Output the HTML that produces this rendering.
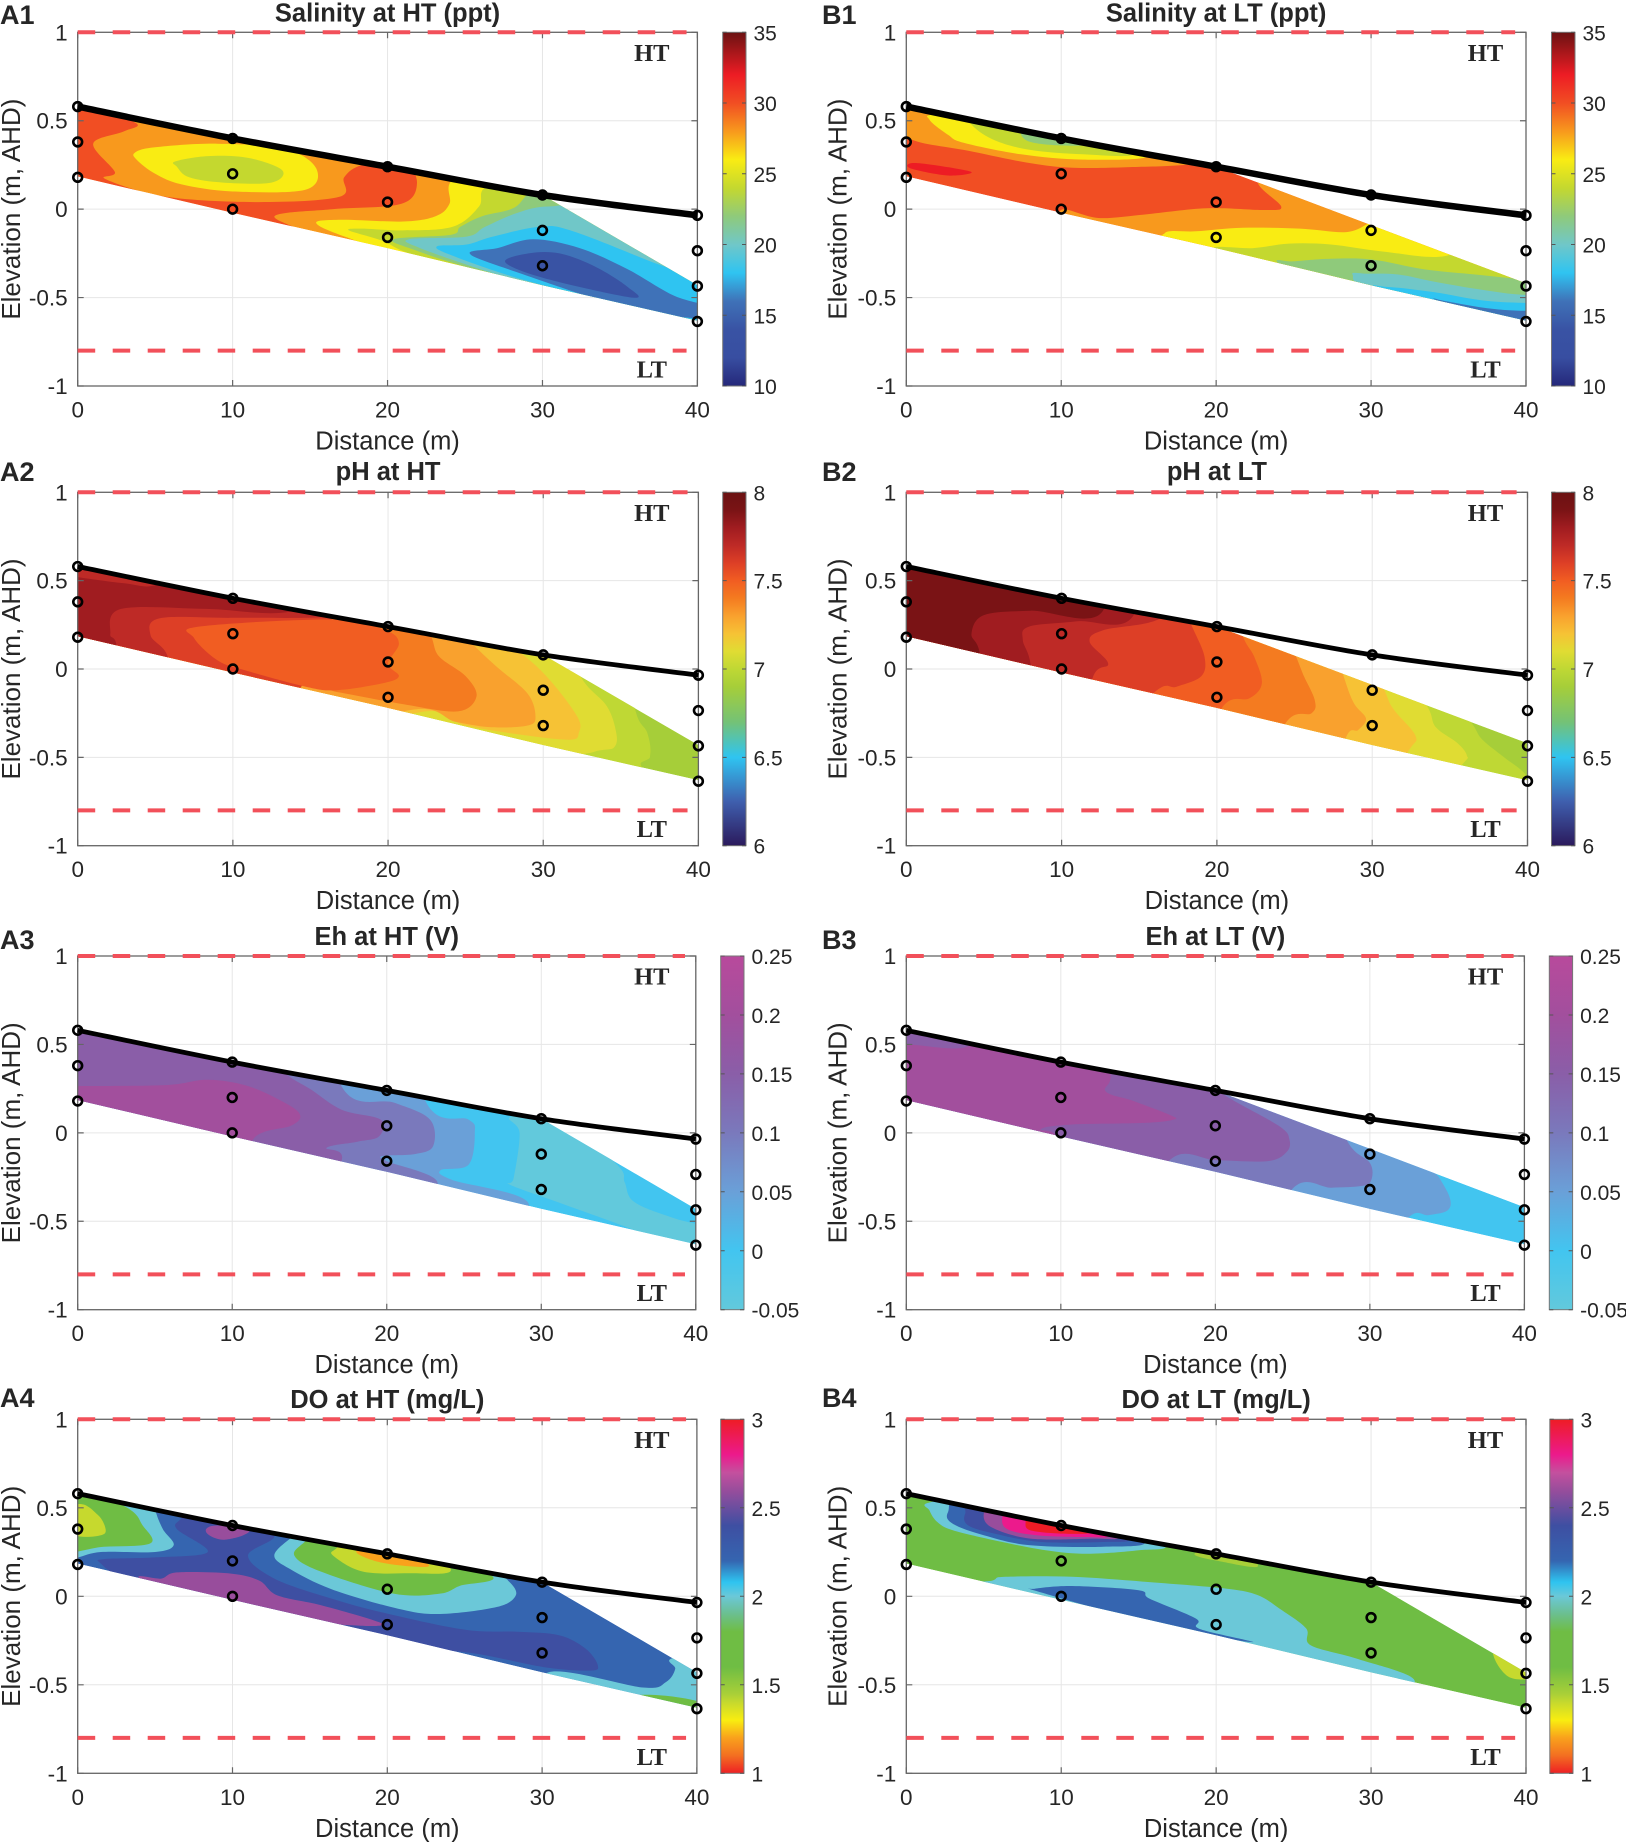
<!DOCTYPE html>
<html lang="en">
<head>
<meta charset="utf-8">
<title>Beach groundwater contour panels</title>
<style>
html,body{margin:0;padding:0;background:#fff;}
svg{display:block;}
text{font-family:"Liberation Sans",Arial,sans-serif;fill:#262626;}
</style>
</head>
<body>
<svg id="figure" width="1626" height="1842" viewBox="0 0 1626 1842" xmlns="http://www.w3.org/2000/svg"></svg>
<script>
const distanceTicks=[0,10,20,30,40];
const elevationTicks=[-1,-0.5,0,0.5,1];
const beachDistance=[0,10,20,30,40];
const beachElevation=[0.58,0.40,0.24,0.08,-0.035];
const sampleDistance=[0,0,0,10,10,10,20,20,20,30,30,30,40,40,40,40];
const sampleElevation=[0.58,0.38,0.18,0.40,0.20,0,0.24,0.04,-0.16,0.08,-0.12,-0.32,-0.035,-0.235,-0.435,-0.635];
const highTideLevel=1;
const lowTideLevel=-0.8;
const domainHT=[[0,0.58],[10,0.40],[20,0.24],[30,0.08],[40,-0.43],[40,-0.63],[30,-0.43],[20,-0.22],[10,-0.02],[0,0.185]];
const domainLT=[[0,0.58],[10,0.40],[20,0.24],[30,-0.09],[40,-0.42],[40,-0.63],[30,-0.43],[20,-0.22],[10,-0.02],[0,0.185]];

const salinityLevels=[[10,'#25287a'],[12,'#384ea1'],[14,'#3953a4'],[16,'#3f72b8'],[18,'#2fc4f1'],[20,'#70c7c8'],[22,'#8fca7b'],[24,'#c4d82f'],[26,'#f9ec13'],[28,'#f8991d'],[30,'#f14e23'],[32,'#ed1c24'],[35,'#6b1212']];
const phLevels=[[6,'#2b1a5c'],[6.25,'#3f5fae'],[6.5,'#2fc4f1'],[6.7,'#74c276'],[6.9,'#a6ce39'],[7,'#bfd834'],[7.1,'#e0dc33'],[7.2,'#f6c235'],[7.3,'#f9a12e'],[7.4,'#f47b20'],[7.5,'#f15d22'],[7.6,'#dd3f26'],[7.7,'#be2a26'],[7.8,'#a01c20'],[7.9,'#7a1315'],[8,'#6b1212']];
const ehLevels=[[-0.05,'#62c9dc'],[0,'#42c5f0'],[0.05,'#6aa0d8'],[0.1,'#7a79bc'],[0.15,'#8a5ea8'],[0.2,'#a24f9d'],[0.25,'#b84a9c']];
const doLevels=[[1,'#ee2024'],[1.1,'#f36f21'],[1.2,'#f9a11c'],[1.3,'#f9ed10'],[1.4,'#c6d92e'],[1.45,'#a8cf38'],[1.6,'#6fbd44'],[1.8,'#6fbd44'],[1.9,'#6bbf8f'],[2,'#6bc8d8'],[2.08,'#2ec4f0'],[2.2,'#3565b0'],[2.4,'#3e4fa2'],[2.6,'#984d9c'],[2.7,'#c4509e'],[2.8,'#ec1a8c'],[3,'#ee1c25']];

const salinityTicks=[10,15,20,25,30,35];
const phTicks=[6,6.5,7,7.5,8];
const ehTicks=[-0.05,0,0.05,0.1,0.15,0.2,0.25];
const doTicks=[1,1.5,2,2.5,3];

const a1Bands=[
[30,[[-.3,.6],[3.7,.49],[3,.44],[1,.37],[2.4,.21],[1.8,.17],[5.7,.07],[11.7,.04],[16.9,.07],[17.2,.18],[18.4,.25],[21,.26],[21.9,.15],[20.9,.03],[16.4,0],[12.7,-.04],[15,-.15],[8.4,-.06],[-.3,.14]]],
[26,[[3.7,.32],[5,.35],[9,.37],[13.4,.34],[15.4,.23],[14.7,.11],[10,.10],[6.7,.14],[5,.2],[3.8,.28]]],
[24,[[6.3,.27],[8.4,.3],[11,.29],[13.2,.22],[12.5,.15],[9.4,.15],[7.2,.18],[6.4,.24]]],
[26,[[24.3,.17],[24,.03],[23.1,-.04],[21,-.07],[17,-.06],[15.4,-.08],[17.7,-.17],[25,-.38],[41.8,-.74],[41.8,.24],[28.4,.24]]],
[24,[[26.4,.13],[25.9,.015],[24.2,-.1],[21,-.12],[18.4,-.11],[17.5,-.12],[19.7,-.18],[21.7,-.26],[28.4,-.44],[41.8,-.74],[41.8,.24],[30,.24]]],
[22,[[29.1,.09],[28.1,.005],[26.1,-.04],[24.7,-.1],[24.1,-.145],[20.4,-.17],[21.7,-.23],[26.4,-.36],[41.8,-.74],[41.8,.24],[31,.24]]],
[20,[[30.4,.015],[28.4,-.02],[26.3,-.1],[25.1,-.155],[21.4,-.17],[22.1,-.22],[27.1,-.37],[31.8,-.475],[41.8,-.74],[41.8,-.4],[33.4,-.02]]],
[18,[[29.8,-.1],[26.8,-.155],[25.1,-.2],[23.2,-.21],[24.1,-.26],[28.4,-.39],[35.1,-.55],[41.8,-.74],[41.8,-.475],[36.8,-.29],[31.8,-.12]]],
[16,[[29.4,-.17],[27.1,-.22],[25.3,-.25],[27.8,-.34],[35.8,-.57],[40,-.62],[41,-.65],[41,-.56],[38.5,-.49],[35.5,-.34],[32.4,-.22]]],
[14,[[29.1,-.25],[27.6,-.3],[30.1,-.39],[35.8,-.5],[35.5,-.44],[33.4,-.325],[31.1,-.25]]]
];
const b1Bands=[
[28,[[-.3,.6],[0,.41],[4,.33],[9.7,.24],[15.4,.24],[18,.25],[18.7,.26],[17.4,.43],[4,.62]]],
[26,[[1.5,.505],[2.7,.42],[3.7,.375],[7.4,.31],[11.4,.28],[15.7,.3],[14,.43],[7.4,.58],[2,.54]]],
[24,[[4.3,.47],[5.7,.39],[8,.335],[11.4,.31],[14.7,.31],[12.7,.43],[7.4,.54],[4.3,.525]]],
[22,[[7.4,.43],[8,.38],[10,.36],[11.7,.37],[10.7,.45],[8,.47]]],
[32,[[.3,.26],[1.7,.25],[4.2,.21],[2.7,.19],[.3,.23]]],
[28,[[22.7,.15],[24.2,.015],[23.1,-.005],[19.4,.005],[15.4,-.03],[12.4,-.05],[10,-.005],[10.7,-.17],[27.4,-.7],[44,-.7],[44,.24],[24,.24]]],
[26,[[31,-.05],[29.9,-.08],[28.4,-.13],[25.4,-.11],[21.7,-.105],[18.7,-.125],[16.7,-.135],[17.4,-.25],[27.4,-.7],[44,-.7],[44,.24],[34,.24]]],
[24,[[34.8,-.265],[30.8,-.24],[27.4,-.2],[24.7,-.195],[22.4,-.22],[19.7,-.22],[20.7,-.32],[27.4,-.7],[44,-.7],[44,-.1],[37.5,-.13]]],
[22,[[40,-.395],[36.8,-.37],[33.4,-.34],[30.1,-.285],[27.4,-.28],[25,-.295],[24,-.305],[27.4,-.51],[44,-.75],[44,-.39]]],
[20,[[40,-.485],[37.1,-.455],[34.1,-.41],[31.8,-.37],[29.8,-.365],[28.8,-.37],[30.8,-.475],[44,-.75],[44,-.48]]],
[18,[[40,-.53],[37.1,-.515],[34.1,-.47],[31.1,-.44],[30.8,-.46],[40,-.75],[44,-.7],[44,-.53]]],
[16,[[40,-.575],[37.5,-.56],[34.8,-.52],[34.1,-.51],[37,-.62],[41,-.75],[44,-.7],[44,-.57]]]
];
const a2Bands=[
[7,[[35,.3],[35.9,-.22],[36.7,-.36],[36.9,-.48],[36.4,-.525],[33.4,-.61],[10,-.6],[-3,-.3],[-3,1],[20,1]]],
[7.1,[[31,.3],[32.4,-.04],[34.1,-.21],[34.7,-.36],[34.6,-.44],[33.7,-.46],[30,-.5],[10,-.6],[-3,-.3],[-3,1],[20,1]]],
[7.2,[[25,.3],[28.4,.1],[30.4,-.06],[32.2,-.27],[32.3,-.36],[31.7,-.4],[28.4,-.37],[25,-.32],[21.7,-.25],[10,-.6],[-3,-.3],[-3,1],[15,1]]],
[7.3,[[23,.35],[25.5,.136],[27,.013],[29,-.14],[29.5,-.27],[29,-.32],[26.7,-.33],[24.4,-.3],[21,-.24],[10,-.6],[-3,-.3],[-3,1],[15,1]]],
[7.4,[[22,.35],[22.8,.18],[23.3,.07],[25,-.04],[25.7,-.155],[24.5,-.24],[21,-.2],[16.7,-.13],[14.3,-.1],[10,-.6],[-3,-.3],[-3,1],[15,1]]],
[7.6,[[10,.6],[16.4,.28],[15,.05],[14.4,-.1],[10,-.6],[-3,-.3],[-3,1]]],
[7.5,[[7.8,.24],[16.4,.28],[19.8,.22],[20.7,.145],[20,.03],[20.7,-.04],[19.7,-.08],[16.7,-.12],[14.7,-.1],[10.7,-.005],[9,.05],[7.5,.175]]],
[7.7,[[16.7,.3],[10,.29],[5.3,.287],[4.7,.19],[5.8,.07],[6,-.2],[-3,-.3],[-3,1],[20,1],[20,.4]]],
[7.8,[[13.7,.325],[8.3,.34],[2.8,.34],[2.1,.2],[2.5,.13],[2.5,-.2],[-3,-.3],[-3,1],[20,1],[18,.5]]],
[7.7,[[-1,.7],[-.5,.53],[0,.52],[3,.485],[5,.475],[7,.6]]]
];
const b2Bands=[
[7,[[35,-.1],[36.5,-.317],[37.1,-.4],[38.5,-.5],[40,-.61],[41,-.8],[10,-.8],[-3,-.3],[-3,1],[30,1]]],
[7.1,[[32,0],[33.6,-.22],[34.1,-.33],[35.5,-.42],[36.1,-.49],[35.8,-.54],[33,-.8],[10,-.8],[-3,-.3],[-3,1],[30,1]]],
[7.2,[[29,.3],[30.8,-.12],[31.4,-.23],[32.8,-.38],[32.3,-.47],[30,-.8],[10,-.8],[-3,-.3],[-3,1],[20,1]]],
[7.3,[[27,.3],[28.1,-.025],[28.8,-.19],[29.6,-.28],[29.1,-.345],[28.3,-.39],[27,-.8],[10,-.8],[-3,-.3],[-3,1],[20,1]]],
[7.4,[[24,.3],[25.1,.07],[25.6,-.04],[26.3,-.175],[26.1,-.25],[24.4,-.31],[22,-.8],[10,-.8],[-3,-.3],[-3,1],[15,1]]],
[7.5,[[21,.4],[21.7,.18],[22.4,.07],[22.9,-.08],[22.1,-.166],[20.4,-.21],[18,-.6],[-3,-.3],[-3,1],[15,1]]],
[7.6,[[18.4,.24],[19.2,.07],[19,-.04],[17.4,-.1],[16,-.13],[12,-.5],[-3,-.3],[-3,1],[15,1],[17,.5]]],
[7.7,[[16.4,.29],[12.7,.22],[11.8,.155],[13,.03],[12,-.05],[11,-.5],[-3,-.3],[-3,1],[15,1],[17,.5]]],
[7.8,[[14.7,.315],[11,.27],[7.9,.24],[7.5,.165],[8,.03],[8.3,-.3],[-3,-.3],[-3,1],[15,1]]],
[7.9,[[12.7,.335],[8,.33],[5,.305],[4.2,.2],[4.7,.1],[5,-.2],[-3,-.3],[-3,1],[12,1]]]
];
const a3Bands=[
[-0.05,[[28,.09],[28.6,0],[28.2,-.26],[27.9,-.29],[31,-.39],[36,-.55],[38,-.64],[42,-.7],[42,-.57],[38.5,-.48],[36,-.39],[35.4,-.28],[34.9,-.18],[31,.1]]],
[0.05,[[22.5,.18],[25.3,.075],[25.7,0],[25.3,-.18],[23.5,-.21],[24.2,-.265],[29.2,-.405],[25,-.7],[-3,-.3],[-3,1],[20,1]]],
[0.1,[[17.1,.26],[20.5,.17],[22.8,.075],[23,-.075],[21.8,-.12],[19.8,-.13],[20,-.16],[23.3,-.285],[20,-.5],[-3,-.3],[-3,1],[15,1]]],
[0.15,[[13.4,.34],[15.1,.245],[17.1,.13],[19.6,.075],[19.5,-.02],[18.1,-.05],[16.1,-.085],[17.1,-.15],[15,-.5],[-3,-.3],[-3,1],[12,1],[12,.5]]],
[0.2,[[0,.265],[5.7,.27],[8.4,.30],[11,.265],[13.4,.17],[14.4,.1],[13.8,.04],[11.4,-.03],[10,-.3],[-3,-.3],[-3,.265]]]
];
const b3Bands=[
[0.05,[[33,-.05],[34.5,-.255],[35.2,-.375],[35,-.44],[33.8,-.465],[32.5,-.48],[30,-.8],[-3,-.3],[-3,1],[30,1]]],
[0.1,[[27,.3],[28.6,-.055],[30,-.17],[30.1,-.265],[29.5,-.3],[27.5,-.31],[25,-.315],[22,-.8],[-3,-.3],[-3,1],[25,1]]],
[0.15,[[18,.4],[20.4,.225],[24.1,.04],[24.8,-.04],[24.6,-.11],[23.4,-.16],[20.1,-.155],[17.1,-.15],[14,-.6],[-3,-.3],[-3,1],[15,1]]],
[0.2,[[0,.5],[4,.49],[5,.7],[12,.7],[13.2,.34],[12.9,.235],[14.7,.18],[17.1,.10],[17.3,.075],[15.4,.056],[10.7,.047],[8.7,.02],[9.7,-.04],[8,-.4],[-3,-.3],[-3,.5]]]
];
const a4Bands=[
[2,[[-2,.7],[5,.6],[5,.495],[5.5,.38],[6.2,.29],[5,.25],[1.5,.25],[-.5,.21],[-3,.2]]],
[1.6,[[-2,.7],[3,.51],[4.2,.4],[4.7,.3],[1.7,.28],[-2,.27]]],
[1.4,[[0,.52],[1.3,.46],[1.8,.38],[1.5,.345],[0,.34],[-2,.4]]],
[2.4,[[6.7,.44],[6.4,.38],[8.4,.25],[5,.22],[1.7,.21],[1.5,.185],[3.3,.08],[10,-.2],[20,-.3],[25,-.315],[30.1,-.4],[33.1,-.42],[33.6,-.39],[32.8,-.295],[31.1,-.22],[28.4,-.2],[25.1,-.19],[20.1,-.1],[16.4,-.013],[12.7,.1],[11,.23],[12.7,.335],[11.7,.42],[8,.55]]],
[2.6,[[5.4,.1],[6.4,.135],[9.7,.13],[11.7,.09],[12.9,.005],[15.7,-.05],[19.1,-.135],[19.6,-.165],[17,-.16],[8,-.1],[4,.1]]],
[2.6,[[8.3,.38],[9,.4],[11,.38],[10.7,.345],[9.4,.32],[8.5,.345]]],
[2,[[13.7,.325],[12.7,.23],[13.7,.155],[16.4,.04],[20.7,-.07],[23.4,-.1],[27.1,-.06],[28.3,.005],[27.9,.08],[26.7,.14],[20,.4],[15,.4]]],
[1.6,[[14.7,.31],[14,.23],[15.7,.14],[20.4,.015],[23.4,.015],[24.7,.06],[26.7,.12],[20,.33],[16,.4]]],
[1.4,[[16.7,.27],[16.5,.23],[18.4,.14],[21.4,.13],[24.1,.145],[22,.3],[18,.35]]],
[1.2,[[18,.25],[19.4,.195],[21.4,.17],[22.7,.175],[21,.26],[19,.3]]],
[2,[[30.4,-.43],[36.5,-.515],[38,-.485],[38.6,-.41],[38.4,-.35],[42,-.3],[42,-.8],[30,-.7]]],
[1.6,[[35.5,-.57],[40.5,-.605],[42,-.8],[36,-.8]]]
];
const b4Bands=[
[1.4,[[37.9,-.335],[38.8,-.45],[40,-.47],[41,-.45],[41,-.3],[38,-.2]]],
[1.45,[[18.6,.24],[20.4,.195],[22.7,.17],[21,.3]]],
[2,[[1.5,.485],[2,.42],[3,.373],[5.7,.316],[9,.26],[11.7,.24],[15,.26],[16.7,.29],[13,.46],[5.7,.57],[1.5,.53]]],
[2.2,[[2.7,.476],[3,.41],[5,.345],[8,.288],[12.7,.28],[15.4,.307],[12,.46],[4,.57]]],
[2.4,[[3.8,.467],[4,.4],[5.7,.354],[8.7,.307],[12.7,.307],[14.4,.326],[12,.46],[4.7,.55]]],
[2.6,[[5,.467],[5.5,.39],[8,.326],[12,.326],[13.7,.335],[11.4,.46],[5.7,.53]]],
[2.8,[[6.2,.448],[6.5,.38],[8.4,.345],[11.7,.335],[13,.345],[10.7,.46],[6.7,.495]]],
[3,[[7.7,.42],[8,.373],[10,.354],[12,.363],[10,.44],[8,.46]]],
[2,[[5.6,.09],[6.4,.11],[10.7,.11],[15.7,.08],[20.7,.043],[22.7,.006],[24.1,-.07],[25.8,-.18],[26.1,-.277],[29.1,-.353],[32.8,-.475],[30,-.6],[15,-.4],[4,.02]]],
[2.2,[[8.3,.043],[10.7,.058],[15,.034],[15.7,-.013],[18.7,-.126],[18.9,-.183],[22.4,-.258],[19,-.215],[14,-.11],[8.4,.03]]]
];

const panels=[
{id:'a1',tag:'A1',title:'Salinity at HT (ppt)',x0:77.7,x1:697.4,y0:32.3,y1:386,cb0:722.7,cb1:746,tagY:24,titleY:21.7,tagX:0,lab:20,tideX:651.8,map:salinityLevels,ticks:salinityTicks,base:28,domain:domainHT,bands:a1Bands,lw:6.5},
{id:'b1',tag:'B1',title:'Salinity at LT (ppt)',x0:906.3,x1:1526,y0:32.3,y1:386,cb0:1551.5,cb1:1575,tagY:24,titleY:21.7,tagX:822,lab:846.5,tideX:1485.5,map:salinityLevels,ticks:salinityTicks,base:30,domain:domainLT,bands:b1Bands,lw:6.5},
{id:'a2',tag:'A2',title:'pH at HT',x0:77.7,x1:698.4,y0:492.3,y1:845.7,cb0:722.7,cb1:746,tagY:481,titleY:480,tagX:0,lab:20,tideX:651.8,map:phLevels,ticks:phTicks,base:6.9,domain:domainHT,bands:a2Bands,lw:4.8},
{id:'b2',tag:'B2',title:'pH at LT',x0:906.3,x1:1527.5,y0:492.3,y1:845.7,cb0:1551.5,cb1:1575,tagY:481,titleY:480,tagX:822,lab:846.5,tideX:1485.5,map:phLevels,ticks:phTicks,base:6.9,domain:domainLT,bands:b2Bands,lw:4.8},
{id:'a3',tag:'A3',title:'Eh at HT (V)',x0:77.7,x1:695.8,y0:956,y1:1309.7,cb0:720.7,cb1:744,tagY:949,titleY:945,tagX:0,lab:20,tideX:651.8,map:ehLevels,ticks:ehTicks,base:0,domain:domainHT,bands:a3Bands,lw:4.8},
{id:'b3',tag:'B3',title:'Eh at LT (V)',x0:906.3,x1:1524.4,y0:956,y1:1309.7,cb0:1549.3,cb1:1572.6,tagY:949,titleY:945,tagX:822,lab:846.5,tideX:1485.5,map:ehLevels,ticks:ehTicks,base:0,domain:domainLT,bands:b3Bands,lw:4.8},
{id:'a4',tag:'A4',title:'DO at HT (mg/L)',x0:77.7,x1:696.9,y0:1419.3,y1:1773.3,cb0:720.7,cb1:744,tagY:1407,titleY:1408,tagX:0,lab:20,tideX:651.8,map:doLevels,ticks:doTicks,base:2.2,domain:domainHT,bands:a4Bands,lw:4.8},
{id:'b4',tag:'B4',title:'DO at LT (mg/L)',x0:906.3,x1:1526,y0:1419.3,y1:1773.3,cb0:1549.8,cb1:1573,tagY:1407,titleY:1408,tagX:822,lab:846.5,tideX:1485.5,map:doLevels,ticks:doTicks,base:1.6,domain:domainHT,bands:b4Bands,lw:4.8}
];

const SVGNS='http://www.w3.org/2000/svg';
const root=document.getElementById('figure');
function mk(parent,tag){const el=document.createElementNS(SVGNS,tag);parent.appendChild(el);return el;}
function set(el,o){for(const k in o){el.setAttribute(k,o[k]);}return el;}
function hex(c){return [1,3,5].map(i=>parseInt(c.substr(i,2),16));}
function colorFor(map,v){
  if(v<=map[0][0])return map[0][1];
  for(let i=1;i<map.length;i++){
    if(v<=map[i][0]){
      const t=(v-map[i-1][0])/(map[i][0]-map[i-1][0]);
      const a=hex(map[i-1][1]),b=hex(map[i][1]);
      return 'rgb('+a.map((q,j)=>Math.round(q+(b[j]-q)*t)).join(',')+')';
    }
  }
  return map[map.length-1][1];
}
function closedSpline(pts){
  const n=pts.length;let d='M'+pts[0][0].toFixed(1)+' '+pts[0][1].toFixed(1);
  for(let i=0;i<n;i++){
    const p0=pts[(i-1+n)%n],p1=pts[i],p2=pts[(i+1)%n],p3=pts[(i+2)%n];
    const c1=[p1[0]+(p2[0]-p0[0])/6,p1[1]+(p2[1]-p0[1])/6],c2=[p2[0]-(p3[0]-p1[0])/6,p2[1]-(p3[1]-p1[1])/6];
    d+='C'+c1[0].toFixed(1)+' '+c1[1].toFixed(1)+' '+c2[0].toFixed(1)+' '+c2[1].toFixed(1)+' '+p2[0].toFixed(1)+' '+p2[1].toFixed(1);
  }
  return d+'Z';
}
function openSpline(pts){
  const n=pts.length;let d='M'+pts[0][0].toFixed(1)+' '+pts[0][1].toFixed(1);
  for(let i=0;i<n-1;i++){
    const p0=pts[Math.max(i-1,0)],p1=pts[i],p2=pts[i+1],p3=pts[Math.min(i+2,n-1)];
    const c1=[p1[0]+(p2[0]-p0[0])/6,p1[1]+(p2[1]-p0[1])/6],c2=[p2[0]-(p3[0]-p1[0])/6,p2[1]-(p3[1]-p1[1])/6];
    d+='C'+c1[0].toFixed(1)+' '+c1[1].toFixed(1)+' '+c2[0].toFixed(1)+' '+c2[1].toFixed(1)+' '+p2[0].toFixed(1)+' '+p2[1].toFixed(1);
  }
  return d;
}
function label(parent,x,y,str,size,anchor,extra){
  const t=mk(parent,'text');
  set(t,{x:x,y:y,'font-size':size,'text-anchor':anchor});
  if(extra)set(t,extra);
  t.textContent=str;
  return t;
}

const defs=mk(root,'defs');
panels.forEach(function(p){
  const sx=d=>p.x0+(d-0)/40*(p.x1-p.x0);
  const sy=e=>p.y1-(e+1)/2*(p.y1-p.y0);
  const toPx=q=>[sx(q[0]),sy(q[1])];

  const clip=mk(defs,'clipPath');
  clip.setAttribute('id','clip-'+p.id);
  const clipPoly=mk(clip,'polygon');
  clipPoly.setAttribute('points',p.domain.map(q=>toPx(q).map(v=>v.toFixed(1)).join(',')).join(' '));

  const grad=mk(defs,'linearGradient');
  set(grad,{id:'grad-'+p.id,x1:0,y1:1,x2:0,y2:0});
  const lo=p.map[0][0],hi=p.map[p.map.length-1][0];
  p.map.forEach(function(s){
    const st=mk(grad,'stop');
    set(st,{offset:(s[0]-lo)/(hi-lo),'stop-color':s[1]});
  });

  const g=mk(root,'g');
  
  

  const tagText=label(g,p.tagX,p.tagY,p.tag,27,'start',{'font-weight':'bold',fill:'#000'});
  
  

  const titleText=label(g,(p.x0+p.x1)/2,p.titleY,p.title,25.5,'middle',{'font-weight':'bold',fill:'#000'});
  
  

  const gridG=mk(g,'g');
  
  
  distanceTicks.forEach(function(d){
    const l=mk(gridG,'line');
    set(l,{x1:sx(d),x2:sx(d),y1:p.y0,y2:p.y1,stroke:'#e6e6e6','stroke-width':1});
    
    
  });
  elevationTicks.forEach(function(e){
    const l=mk(gridG,'line');
    set(l,{x1:p.x0,x2:p.x1,y1:sy(e),y2:sy(e),stroke:'#e6e6e6','stroke-width':1});
    
    
  });

  const contour=mk(g,'g');
  contour.setAttribute('clip-path','url(#clip-'+p.id+')');
  
  
  const baseFill=mk(contour,'polygon');
  set(baseFill,{points:p.domain.map(q=>toPx(q).map(v=>v.toFixed(1)).join(',')).join(' '),fill:colorFor(p.map,p.base)});
  
  
  p.bands.forEach(function(b){
    const path=mk(contour,'path');
    set(path,{d:closedSpline(b[1].map(toPx)),fill:colorFor(p.map,b[0])});
    
    
  });

  const frame=mk(g,'rect');
  set(frame,{x:p.x0,y:p.y0,width:p.x1-p.x0,height:p.y1-p.y0,fill:'none',stroke:'#666','stroke-width':1.3});
  
  

  distanceTicks.forEach(function(d){
    const t1=mk(g,'path');
    set(t1,{d:'M'+sx(d)+' '+p.y1+'v-6M'+sx(d)+' '+p.y0+'v6',stroke:'#666','stroke-width':1.2,fill:'none'});
    
    
    const t2=label(g,sx(d),p.y1+31.5,String(d),22.5,'middle');
    
    
  });
  elevationTicks.forEach(function(e){
    const t1=mk(g,'path');
    set(t1,{d:'M'+p.x0+' '+sy(e)+'h6M'+p.x1+' '+sy(e)+'h-6',stroke:'#666','stroke-width':1.2,fill:'none'});
    
    
    const t2=label(g,p.x0-10,sy(e)+8,String(e),22.5,'end');
    
    
  });

  const xTitle=label(g,(p.x0+p.x1)/2,p.y1+63.5,'Distance (m)',25.5,'middle');
  
  
  const yTitle=label(g,0,0,'Elevation (m, AHD)',26,'middle',{transform:'translate('+p.lab+' '+((p.y0+p.y1)/2)+') rotate(-90)'});
  
  

  [highTideLevel,lowTideLevel].forEach(function(level){
    const l=mk(g,'line');
    set(l,{x1:sx(0),x2:sx(39.3),y1:sy(level),y2:sy(level),stroke:'#f2505a','stroke-width':4,'stroke-dasharray':'17.5 17.5'});
    
    
  });
  const ht=label(g,p.tideX,p.y0+28.5,'HT',24.5,'middle',{'font-weight':'bold',fill:'#000',style:'font-family:"Liberation Serif",serif'});
  
  
  const lt=label(g,p.tideX,p.y1-8.5,'LT',24.5,'middle',{'font-weight':'bold',fill:'#000',style:'font-family:"Liberation Serif",serif'});
  
  

  const beach=mk(g,'path');
  set(beach,{d:openSpline(beachDistance.map((d,i)=>[sx(d),sy(beachElevation[i])])),fill:'none',stroke:'#000','stroke-width':p.lw});
  
  

  sampleDistance.forEach(function(d,i){
    const c=mk(g,'circle');
    set(c,{cx:sx(d),cy:sy(sampleElevation[i]),r:4.4,fill:'none',stroke:'#000','stroke-width':2.6});
    
    
  });

  const cby=v=>p.y1-(v-lo)/(hi-lo)*(p.y1-p.y0);
  const bar=mk(g,'rect');
  set(bar,{x:p.cb0,y:p.y0,width:p.cb1-p.cb0,height:p.y1-p.y0,fill:'url(#grad-'+p.id+')',stroke:'#777','stroke-width':1});
  
  
  p.ticks.forEach(function(v){
    const tk=mk(g,'path');
    set(tk,{d:'M'+p.cb1+' '+cby(v)+'h-4M'+p.cb0+' '+cby(v)+'h4',stroke:'#555','stroke-width':1,fill:'none'});
    
    
    const tl=label(g,p.cb1+7.5,cby(v)+8,String(v),21,'start');
    
    
  });
});
</script>
</body>
</html>
